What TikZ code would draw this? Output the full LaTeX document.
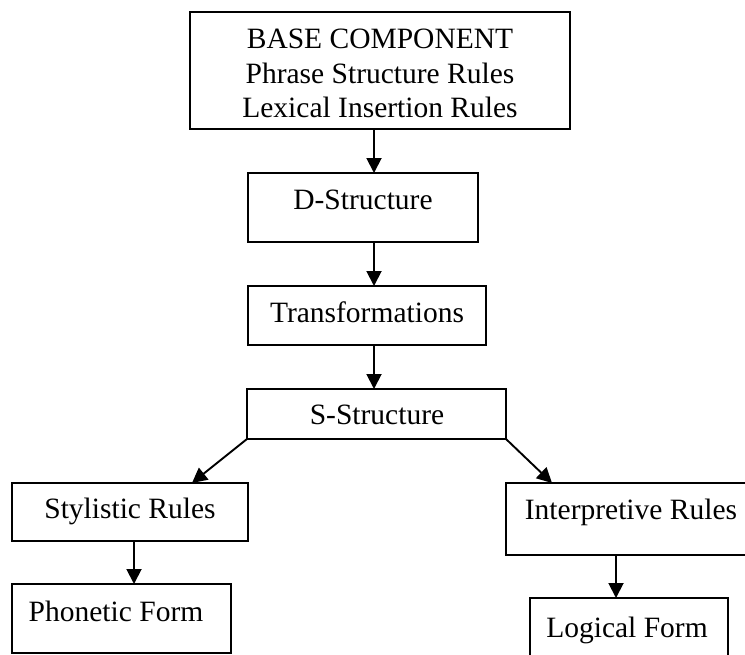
\documentclass[tikz,border=0pt]{standalone}
\usepackage{fontspec}
\setmainfont{Liberation Serif}
\usetikzlibrary{arrows.meta}

\tikzset{
  stage/.style={draw, rectangle, line width=1.9pt, inner sep=0pt, outer sep=0pt, anchor=north west},
  caption/.style={inner sep=0pt, outer sep=0pt, anchor=base, align=center},
  flow/.style={line width=1.9pt, -{Triangle[length=15pt,width=15pt]}},
}

\begin{document}
\begin{tikzpicture}[x=1pt, y=-1pt, font=\fontsize{29.5}{34.5}\selectfont]
  \useasboundingbox (0,0) rectangle (745,654);
  \clip (0,0) rectangle (745,654);

  % boxes (top-left corner, size)
  \node[stage, minimum width=380pt, minimum height=117pt] (base)   at (190,12)  {};
  \node[stage, minimum width=230pt, minimum height=69pt]  (dstr)   at (248,173) {};
  \node[stage, minimum width=238pt, minimum height=59pt]  (trans)  at (248,286) {};
  \node[stage, minimum width=259pt, minimum height=50pt]  (sstr)   at (247,389) {};
  \node[stage, minimum width=236pt, minimum height=58pt]  (styl)   at (12,483)  {};
  \node[stage, minimum width=254pt, minimum height=72pt]  (interp) at (506,483) {};
  \node[stage, minimum width=219pt, minimum height=69pt]  (phon)   at (12,584)  {};
  \node[stage, minimum width=198pt, minimum height=82pt]  (logic)  at (530,598) {};

  % box texts
  \node[caption] (base-1) at (380,48)  {BASE COMPONENT};
  \node[caption] (base-2) at (380,83)  {Phrase Structure Rules};
  \node[caption] (base-3) at (380,117) {Lexical Insertion Rules};
  \node[caption] (dstr-t)   at (363,209) {D-Structure};
  \node[caption] (trans-t)  at (367,322) {Transformations};
  \node[caption] (sstr-t)   at (377,424) {S-Structure};
  \node[caption] (styl-t)   at (130,518) {Stylistic Rules};
  \node[caption] (interp-t) at (631,519) {Interpretive Rules};
  \node[caption] (phon-t)   at (116,621) {Phonetic Form};
  \node[caption] (logic-t)  at (627,637) {Logical Form};

  % vertical guides for the arrows
  \coordinate (spine) at (374,0);
  \coordinate (left)  at (134,0);
  \coordinate (right) at (616,0);
  \coordinate (sl)    at (192,0);
  \coordinate (sr)    at (552,0);

  % connectors
  \draw[flow] (spine |- base.south)  -- (spine |- dstr.north);
  \draw[flow] (spine |- dstr.south)  -- (spine |- trans.north);
  \draw[flow] (spine |- trans.south) -- (spine |- sstr.north);
  \draw[flow] (sstr.south west) -- (sl |- styl.north);
  \draw[flow] (sstr.south east) -- (sr |- interp.north);
  \draw[flow] (left |- styl.south)   -- (left |- phon.north);
  \draw[flow] (right |- interp.south) -- (right |- logic.north);
\end{tikzpicture}
\end{document}
